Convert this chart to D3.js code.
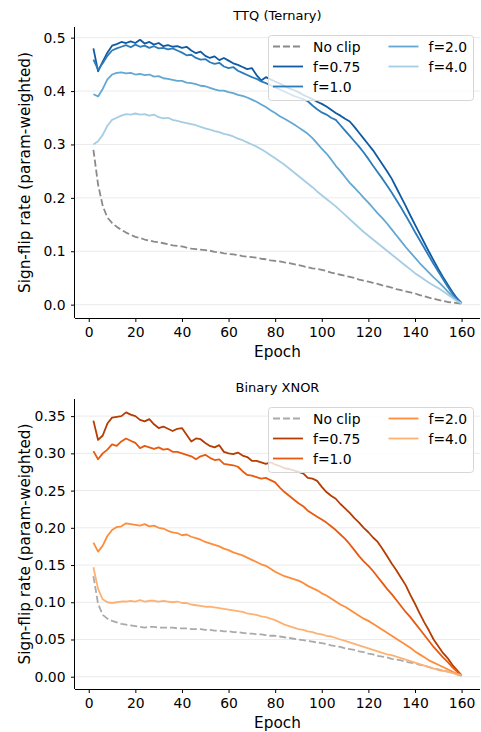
<!DOCTYPE html>
<html>
<head>
<meta charset="utf-8">
<script src="https://cdn.jsdelivr.net/npm/d3@7"></script>
<style>
  body { margin: 0; background: #fff; }
  svg { display: block; font-family: "DejaVu Sans", sans-serif; }
</style>
</head>
<body>
<div id="chart"></div>
<script>
// epochs logged every 2 epochs
let epochs = d3.range(2, 161, 2);
let seriesNames = ["No clip", "f=0.75", "f=1.0", "f=2.0", "f=4.0"];
let xTicks = [0, 20, 40, 60, 80, 100, 120, 140, 160];
let ttqTicks = [0.0, 0.1, 0.2, 0.3, 0.4, 0.5];
let xnorTicks = [0.00, 0.05, 0.10, 0.15, 0.20, 0.25, 0.30, 0.35];

let ttqNoClip = [
  0.290,0.225,0.185,0.163,0.153,0.146,0.140,0.135,0.131,0.127,
  0.125,0.122,0.120,0.118,0.117,0.115,0.113,0.111,0.110,0.109,
  0.107,0.105,0.104,0.103,0.102,0.101,0.099,0.098,0.096,0.095,
  0.094,0.093,0.091,0.090,0.089,0.088,0.086,0.085,0.083,0.082,
  0.081,0.079,0.078,0.076,0.074,0.072,0.070,0.068,0.067,0.065,
  0.063,0.060,0.058,0.056,0.054,0.052,0.050,0.047,0.045,0.043,
  0.041,0.039,0.036,0.034,0.032,0.029,0.027,0.025,0.023,0.021,
  0.018,0.016,0.013,0.011,0.009,0.007,0.005,0.004,0.003,0.002];
let ttqF075 = [
  0.480,0.437,0.455,0.472,0.485,0.488,0.492,0.490,0.493,0.490,
  0.496,0.489,0.492,0.487,0.490,0.484,0.486,0.483,0.484,0.481,
  0.483,0.476,0.471,0.474,0.466,0.462,0.465,0.458,0.462,0.457,
  0.452,0.449,0.445,0.441,0.443,0.430,0.420,0.426,0.422,0.418,
  0.414,0.410,0.405,0.402,0.398,0.393,0.389,0.385,0.380,0.376,
  0.371,0.365,0.359,0.354,0.348,0.343,0.333,0.322,0.311,0.300,
  0.289,0.276,0.263,0.250,0.236,0.219,0.202,0.185,0.167,0.150,
  0.133,0.116,0.099,0.083,0.067,0.052,0.038,0.024,0.012,0.003];
let ttqF1 = [
  0.459,0.440,0.452,0.466,0.476,0.480,0.483,0.486,0.482,0.487,
  0.483,0.485,0.481,0.484,0.480,0.481,0.478,0.480,0.476,0.472,
  0.467,0.468,0.462,0.459,0.460,0.454,0.451,0.453,0.446,0.443,
  0.445,0.438,0.434,0.430,0.426,0.423,0.418,0.415,0.411,0.407,
  0.403,0.399,0.395,0.391,0.388,0.385,0.381,0.373,0.366,0.360,
  0.356,0.350,0.346,0.336,0.326,0.316,0.306,0.296,0.285,0.273,
  0.260,0.248,0.236,0.223,0.210,0.196,0.182,0.167,0.152,0.136,
  0.121,0.106,0.091,0.076,0.062,0.048,0.034,0.021,0.010,0.003];
let ttqF2 = [
  0.394,0.390,0.404,0.422,0.431,0.434,0.435,0.433,0.434,0.431,
  0.432,0.430,0.431,0.427,0.428,0.424,0.423,0.421,0.419,0.419,
  0.416,0.415,0.413,0.410,0.409,0.406,0.403,0.401,0.401,0.398,
  0.396,0.393,0.391,0.388,0.384,0.380,0.375,0.370,0.364,0.359,
  0.353,0.348,0.343,0.338,0.332,0.326,0.320,0.312,0.302,0.292,
  0.283,0.272,0.260,0.250,0.239,0.228,0.219,0.210,0.200,0.191,
  0.181,0.171,0.162,0.152,0.141,0.130,0.119,0.108,0.098,0.088,
  0.078,0.069,0.060,0.051,0.043,0.034,0.025,0.016,0.008,0.002];
let ttqF4 = [
  0.300,0.306,0.318,0.335,0.346,0.350,0.354,0.357,0.356,0.358,
  0.356,0.357,0.354,0.356,0.351,0.349,0.350,0.346,0.344,0.342,
  0.340,0.338,0.336,0.333,0.330,0.328,0.325,0.323,0.320,0.318,
  0.315,0.311,0.308,0.304,0.300,0.296,0.291,0.286,0.280,0.274,
  0.268,0.262,0.255,0.248,0.241,0.234,0.227,0.220,0.212,0.205,
  0.198,0.191,0.184,0.176,0.168,0.160,0.152,0.144,0.136,0.129,
  0.122,0.115,0.108,0.101,0.094,0.087,0.080,0.073,0.066,0.059,
  0.053,0.047,0.041,0.036,0.031,0.025,0.019,0.013,0.007,0.002];

let xnorNoClip = [
  0.135,0.098,0.083,0.078,0.075,0.073,0.071,0.070,0.069,0.068,
  0.067,0.066,0.067,0.067,0.066,0.066,0.066,0.066,0.065,0.065,
  0.065,0.064,0.064,0.064,0.063,0.063,0.062,0.062,0.061,0.061,
  0.060,0.060,0.059,0.058,0.058,0.057,0.057,0.056,0.055,0.055,
  0.054,0.053,0.052,0.051,0.050,0.049,0.048,0.047,0.046,0.045,
  0.044,0.042,0.041,0.040,0.038,0.037,0.036,0.034,0.033,0.031,
  0.030,0.028,0.027,0.026,0.024,0.023,0.022,0.020,0.019,0.018,
  0.016,0.015,0.013,0.011,0.010,0.008,0.007,0.005,0.003,0.001];
let xnorF075 = [
  0.344,0.318,0.324,0.340,0.348,0.349,0.350,0.355,0.352,0.350,
  0.345,0.343,0.346,0.339,0.334,0.336,0.333,0.330,0.333,0.334,
  0.325,0.316,0.320,0.319,0.314,0.310,0.308,0.311,0.302,0.300,
  0.299,0.301,0.297,0.295,0.290,0.290,0.288,0.286,0.288,0.285,
  0.283,0.280,0.279,0.277,0.275,0.273,0.267,0.266,0.263,0.255,
  0.248,0.243,0.239,0.232,0.226,0.220,0.213,0.207,0.200,0.194,
  0.187,0.181,0.172,0.162,0.152,0.143,0.133,0.123,0.110,0.098,
  0.085,0.073,0.062,0.050,0.041,0.032,0.025,0.016,0.009,0.002];
let xnorF1 = [
  0.303,0.292,0.300,0.305,0.312,0.310,0.316,0.320,0.317,0.314,
  0.307,0.310,0.308,0.306,0.308,0.305,0.306,0.302,0.302,0.300,
  0.298,0.296,0.292,0.296,0.298,0.294,0.291,0.292,0.286,0.285,
  0.284,0.282,0.276,0.271,0.270,0.268,0.266,0.267,0.264,0.261,
  0.254,0.248,0.243,0.238,0.233,0.229,0.223,0.219,0.215,0.211,
  0.207,0.202,0.197,0.191,0.185,0.178,0.170,0.162,0.155,0.149,
  0.142,0.134,0.126,0.118,0.111,0.103,0.095,0.087,0.080,0.072,
  0.064,0.056,0.048,0.040,0.033,0.026,0.020,0.013,0.007,0.002];
let xnorF2 = [
  0.180,0.168,0.176,0.189,0.197,0.201,0.202,0.206,0.205,0.204,
  0.203,0.205,0.202,0.203,0.200,0.199,0.196,0.194,0.193,0.190,
  0.191,0.188,0.186,0.184,0.181,0.179,0.177,0.175,0.172,0.170,
  0.167,0.165,0.163,0.160,0.157,0.154,0.151,0.149,0.145,0.141,
  0.138,0.135,0.133,0.131,0.129,0.126,0.122,0.119,0.116,0.112,
  0.109,0.105,0.101,0.097,0.094,0.090,0.086,0.082,0.078,0.075,
  0.071,0.067,0.063,0.059,0.055,0.051,0.047,0.043,0.039,0.034,
  0.030,0.026,0.022,0.019,0.016,0.013,0.010,0.007,0.004,0.002];
let xnorF4 = [
  0.147,0.118,0.104,0.100,0.099,0.100,0.101,0.101,0.102,0.101,
  0.103,0.101,0.102,0.102,0.101,0.102,0.101,0.100,0.101,0.099,
  0.099,0.097,0.096,0.095,0.094,0.094,0.093,0.092,0.091,0.090,
  0.089,0.088,0.087,0.085,0.084,0.083,0.081,0.080,0.078,0.076,
  0.073,0.070,0.068,0.066,0.064,0.063,0.061,0.060,0.058,0.057,
  0.055,0.054,0.052,0.050,0.048,0.046,0.044,0.042,0.040,0.038,
  0.036,0.034,0.032,0.030,0.029,0.027,0.025,0.023,0.021,0.019,
  0.017,0.015,0.013,0.011,0.009,0.008,0.007,0.005,0.003,0.002];

let ttqColors = ["#8a8a8a", "#0f5aa3", "#2c7cba", "#62a8d3", "#a5cde3"];
let xnorColors = ["#aaaaaa", "#b53d03", "#e85a0f", "#fd8d3c", "#fdb274"];

let W = 481, H = 732;
let svg = d3.select("#chart").append("svg")
  .attr("width", W)
  .attr("height", H);
svg.append("rect").attr("width", W).attr("height", H).attr("fill", "#fff");

function drawPanel(opts) {
  let left = 75, right = 480;
  let top = opts.top, bottom = opts.bottom;

  let x = d3.scaleLinear().domain([-5.9, 167.9]).range([left, right]);
  let y = d3.scaleLinear().domain(opts.yDomain).range([bottom, top]);

  let g = svg.append("g");

  // grid
  g.selectAll("line.grid")
    .data(opts.yTicks)
    .enter()
    .append("line")
    .attr("x1", left)
    .attr("x2", right)
    .attr("y1", function (d) { return y(d); })
    .attr("y2", function (d) { return y(d); })
    .attr("stroke", "#ebebeb")
    .attr("stroke-width", 1);

  // lines
  let line = d3.line()
    .x(function (d, i) { return x(epochs[i]); })
    .y(function (d) { return y(d); });

  opts.series.forEach(function (s, k) {
    g.append("path")
      .datum(s)
      .attr("d", line)
      .attr("fill", "none")
      .attr("stroke", opts.colors[k])
      .attr("stroke-width", 1.8)
      .attr("stroke-linejoin", "round")
      .attr("stroke-dasharray", k == 0 ? "7,3" : null);
  });

  // axes
  let xAxis = g.append("g")
    .attr("transform", "translate(0," + bottom + ")")
    .call(d3.axisBottom(x).tickValues(xTicks).tickSize(4).tickSizeOuter(0).tickPadding(5));
  let yAxis = g.append("g")
    .attr("transform", "translate(" + left + ",0)")
    .call(d3.axisLeft(y).tickValues(opts.yTicks).tickFormat(d3.format(opts.fmt))
      .tickSize(4).tickSizeOuter(0).tickPadding(5.5));
  [xAxis, yAxis].forEach(function (a) {
    a.selectAll("text").attr("font-size", 13.9).attr("font-family", "DejaVu Sans").attr("fill", "#000");
    a.selectAll("line").attr("stroke", "#000");
    a.select(".domain").attr("stroke", "#000");
  });
  xAxis.select(".domain").attr("d", "M" + left + ",0.5H" + right);
  yAxis.select(".domain").attr("d", "M-0.5," + top + "V" + bottom);

  // titles and labels
  g.append("text")
    .attr("x", (left + right) / 2)
    .attr("y", top - 7.5)
    .attr("text-anchor", "middle")
    .attr("font-size", 13)
    .text(opts.title);
  g.append("text")
    .attr("x", (left + right) / 2)
    .attr("y", bottom + 39)
    .attr("text-anchor", "middle")
    .attr("font-size", 15.3)
    .text("Epoch");
  g.append("text")
    .attr("transform", "translate(30," + (top + bottom) / 2 + ") rotate(-90)")
    .attr("text-anchor", "middle")
    .attr("font-size", 15.3)
    .text("Sign-flip rate (param-weighted)");

  // legend
  let lx = 268, ly = top + 8;
  let leg = g.append("g").attr("transform", "translate(" + lx + "," + ly + ")");
  leg.append("rect")
    .attr("x", 0.5).attr("y", 0.5)
    .attr("width", 205).attr("height", 65)
    .attr("rx", 3)
    .attr("fill", "#fff").attr("fill-opacity", 0.8)
    .attr("stroke", "#d6d6d6");
  seriesNames.forEach(function (name, k) {
    let col = k < 3 ? 0 : 1;
    let row = k < 3 ? k : k - 3;
    let hx = col == 0 ? 5 : 120.5;
    let cy = 11.5 + row * 20;
    leg.append("line")
      .attr("x1", hx).attr("x2", hx + 30)
      .attr("y1", cy).attr("y2", cy)
      .attr("stroke", opts.colors[k])
      .attr("stroke-width", 1.8)
      .attr("stroke-dasharray", k == 0 ? "7,3" : null);
    leg.append("text")
      .attr("x", hx + 40)
      .attr("y", cy + 5)
      .attr("font-size", 13.9)
      .text(name);
  });
}

drawPanel({
  title: "TTQ (Ternary)",
  top: 27, bottom: 318,
  yDomain: [-0.025, 0.52],
  yTicks: ttqTicks, fmt: ".1f",
  series: [ttqNoClip, ttqF075, ttqF1, ttqF2, ttqF4],
  colors: ttqColors
});

drawPanel({
  title: "Binary XNOR",
  top: 399, bottom: 689,
  yDomain: [-0.0165, 0.373],
  yTicks: xnorTicks, fmt: ".2f",
  series: [xnorNoClip, xnorF075, xnorF1, xnorF2, xnorF4],
  colors: xnorColors
});
</script>
</body>
</html>
